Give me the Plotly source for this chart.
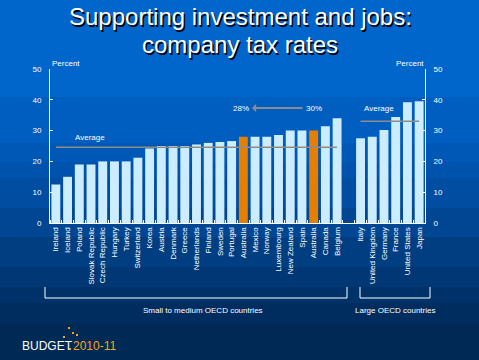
import plotly.graph_objects as go

# ---------------- data ----------------
small_countries = ["Ireland", "Iceland", "Poland", "Slovak Republic", "Czech Republic",
                   "Hungary", "Turkey", "Switzerland", "Korea", "Austria", "Denmark",
                   "Greece", "Netherlands", "Finland", "Sweden", "Portugal", "Australia",
                   "Mexico", "Norway", "Luxembourg", "New Zealand", "Spain", "Australia",
                   "Canada", "Belgium"]
small_rates = [12.5, 15.0, 19.0, 19.0, 20.0, 20.0, 20.0, 21.2, 24.2, 25.0, 25.0,
               25.0, 25.5, 26.0, 26.3, 26.6, 28.0, 28.0, 28.0, 28.6, 30.0, 30.0, 30.0,
               31.4, 34.0]
small_highlight = [16, 22]          # Australia at 28% and 30%
large_countries = ["Italy", "United Kingdom", "Germany", "France", "United States", "Japan"]
large_rates = [27.5, 28.0, 30.2, 34.4, 39.2, 39.5]
small_average = 24.6
large_average = 33.0
y_ticks = [0, 10, 20, 30, 40, 50]

# ---------------- layout helpers ----------------
W, H = 479, 360
L, R, T, B = 50, 54, 69, 137
PW, PH = W - L - R, H - T - B


def px(x):
    return (x - L) / PW


def py(y):
    return (H - B - y) / PH


BAR = "#CCECFF"
ORANGE = "#E67E00"
GREY = "#8C8C8C"
FONT = "Liberation Sans"

small_x = list(range(len(small_countries)))
large_x = [len(small_countries) + 1 + i for i in range(len(large_countries))]
all_x = small_x + large_x
all_labels = small_countries + large_countries

small_colors = [ORANGE if i in small_highlight else BAR for i in small_x]

fig = go.Figure()
fig.add_trace(go.Bar(x=small_x, y=small_rates, marker=dict(color=small_colors, line=dict(width=0)),
                     width=0.76, hoverinfo="skip", showlegend=False))
fig.add_trace(go.Bar(x=large_x, y=large_rates, marker=dict(color=BAR, line=dict(width=0)),
                     width=0.76, hoverinfo="skip", showlegend=False))
fig.add_trace(go.Scatter(x=[small_x[0], small_x[-1]], y=[small_average] * 2, mode="lines",
                         line=dict(color=GREY, width=1.5), hoverinfo="skip", showlegend=False))
fig.add_trace(go.Scatter(x=[large_x[0], large_x[-1]], y=[large_average] * 2, mode="lines",
                         line=dict(color=GREY, width=1.5), hoverinfo="skip", showlegend=False,
                         yaxis="y2"))

# background gradient bands (pixel rows -> colours)
bands = [(0, 97, "#0066CC"), (97, 143, "#005EC1"), (143, 162, "#0058B6"),
         (162, 178, "#0053AD"), (178, 208, "#004DA1"), (208, 237, "#004692"),
         (237, 267, "#003E82"), (267, 287, "#003774"), (287, 303, "#00326A"),
         (303, 323, "#002D5F"), (323, 360, "#002A56")]
shapes = []
for y0, y1, c in bands:
    shapes.append(dict(type="rect", xref="paper", yref="paper", x0=px(-5), x1=px(W + 5),
                       y0=py(y1), y1=py(y0), fillcolor=c, line=dict(width=0), layer="below"))


def bracket(x0, x1, ytop, ybot):
    return dict(type="path", xref="paper", yref="paper",
                path=f"M {px(x0)} {py(ytop)} L {px(x0)} {py(ybot)} L {px(x1)} {py(ybot)} L {px(x1)} {py(ytop)}",
                line=dict(color="white", width=1))


shapes.append(bracket(45, 347, 287, 298))
shapes.append(bracket(360, 430, 287, 298))

# logo sparkle dots
for dx, dy in [(63, 336), (68, 327), (72, 332), (76, 334), (69, 348)]:
    shapes.append(dict(type="rect", xref="paper", yref="paper", x0=px(dx), x1=px(dx + 2),
                       y0=py(dy + 2), y1=py(dy), fillcolor="#F5A21E", line=dict(width=0)))

annotations = []


def text(x, y, s, size, color="white", xanchor="center", family=FONT, shadow=None, **kw):
    font = dict(family=family, size=size, color=color)
    if shadow:
        font["shadow"] = shadow
    annotations.append(dict(x=px(x), y=py(y), xref="paper", yref="paper", text=s,
                            showarrow=False, xanchor=xanchor, yanchor="middle",
                            font=font, **kw))


# title with drop shadow
text(240, 16, "Supporting investment and jobs:", 24, shadow="1.5px 1.5px 0px #000000")
text(240, 45, "company tax rates", 24, shadow="1.5px 1.5px 0px #000000")

text(66, 63, "Percent", 8)
text(410, 63, "Percent", 8)
text(90, 137, "Average", 8)
text(379, 108, "Average", 8)
text(241, 108, "28%", 8)
text(314, 108, "30%", 8)
annotations.append(dict(x=px(252), y=py(108), ax=52, ay=0, xref="paper", yref="paper",
                        text="", showarrow=True,
                        arrowhead=1, arrowsize=0.7, arrowwidth=2, arrowcolor=GREY))
text(203, 310, "Small to medium OECD countries", 8)
text(395, 310, "Large OECD countries", 8)
text(20, 346, "BUDGET", 12, xanchor="left")
text(71, 346, "2010-11", 12, color="#F5A21E", xanchor="left")

axis_font = dict(family=FONT, size=8, color="white")

fig.update_layout(
    width=W, height=H,
    margin=dict(l=L, r=R, t=T, b=B),
    paper_bgcolor="#0066CC",
    plot_bgcolor="rgba(0,0,0,0)",
    bargap=0.24,
    barmode="overlay",
    showlegend=False,
    shapes=shapes,
    annotations=annotations,
    xaxis=dict(range=[-0.5, all_x[-1] + 0.5], tickmode="array", tickvals=all_x,
               ticktext=all_labels, tickangle=-90, tickfont=axis_font, ticks="",
               showline=True, linecolor="white", linewidth=1, showgrid=False, zeroline=False,
               minor=dict(tick0=0.5, dtick=1, ticks="inside", ticklen=3, tickcolor="white",
                          showgrid=False)),
    yaxis=dict(range=[0, 50], tickmode="array", tickvals=y_ticks, tickfont=axis_font,
               ticks="inside", ticklen=3, tickcolor="white", showline=True, linecolor="white",
               linewidth=1, showgrid=False, zeroline=False, ticklabelstandoff=6),
    yaxis2=dict(range=[0, 50], tickmode="array", tickvals=y_ticks, tickfont=axis_font,
                overlaying="y", side="right", ticks="inside", ticklen=3, tickcolor="white",
                showline=True, linecolor="white", linewidth=1, showgrid=False, zeroline=False,
                ticklabelstandoff=6),
)

fig.write_html("out.html", config={"displayModeBar": False, "staticPlot": True},
               post_script="document.body.style.margin='0';document.body.style.overflow='hidden';")
